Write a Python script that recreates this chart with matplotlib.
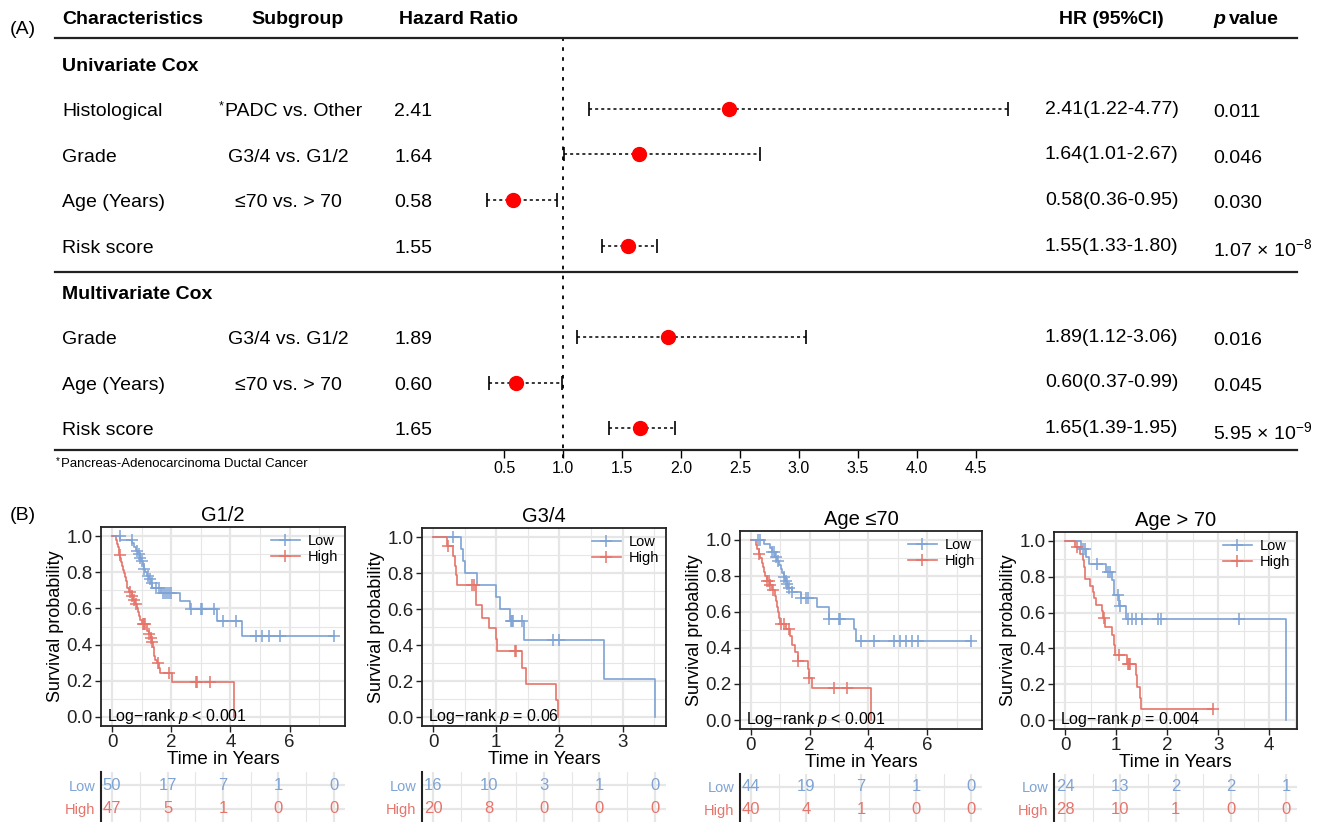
import numpy as np
import matplotlib
matplotlib.use('Agg')
import matplotlib.pyplot as plt
from matplotlib.transforms import blended_transform_factory
from matplotlib.lines import Line2D

plt.rcParams['font.family'] = 'Liberation Sans'
plt.rcParams['mathtext.fontset'] = 'custom'
plt.rcParams['mathtext.rm'] = 'Liberation Sans'
plt.rcParams['mathtext.it'] = 'Liberation Sans:italic'
plt.rcParams['mathtext.bf'] = 'Liberation Sans:bold'

# ---------------- forest plot data (A) ----------------
uni_names = ['Histological', 'Grade', 'Age (Years)', 'Risk score']
uni_sub = ['PADC vs. Other', 'G3/4 vs. G1/2', '≤70 vs. > 70', '']
uni_hr = [2.41, 1.64, 0.58, 1.55]
uni_lo = [1.22, 1.01, 0.36, 1.33]
uni_hi = [4.77, 2.67, 0.95, 1.80]
uni_p = ['0.011', '0.046', '0.030', r'1.07 × 10$^{\mathregular{-8}}$']

multi_names = ['Grade', 'Age (Years)', 'Risk score']
multi_sub = ['G3/4 vs. G1/2', '≤70 vs. > 70', '']
multi_hr = [1.89, 0.60, 1.65]
multi_lo = [1.12, 0.37, 1.39]
multi_hi = [3.06, 0.99, 1.95]
multi_p = ['0.016', '0.045', r'5.95 × 10$^{\mathregular{-9}}$']

hr_ticks = [0.5, 1.0, 1.5, 2.0, 2.5, 3.0, 3.5, 4.0, 4.5]

# ---------------- Kaplan-Meier data (B) ----------------
# G1/2
g12_low_t = [0.28, 0.68, 0.75, 0.81, 0.88, 0.93, 0.99, 1.03, 1.08, 1.12, 1.18, 1.26, 1.32, 1.36,
             1.66, 2.28, 2.65, 3.56, 4.39]
g12_low_s = [0.98, 0.96, 0.94, 0.92, 0.90, 0.88, 0.86, 0.84, 0.82, 0.80, 0.78, 0.76, 0.74, 0.715,
             0.684, 0.642, 0.597, 0.533, 0.445]
g12_low_c = [0.26, 0.66, 0.83, 0.90, 0.94, 1.01, 1.09, 1.20, 1.29, 1.35, 1.49, 1.58, 1.72, 1.80,
             1.86, 1.92, 1.98, 2.68, 3.00, 3.05, 3.44, 3.76, 4.18, 4.88, 5.06, 5.30, 5.69, 7.50]
g12_high_t = [0.13, 0.16, 0.19, 0.22, 0.25, 0.28, 0.31, 0.34, 0.37, 0.40, 0.43, 0.46, 0.49, 0.52,
              0.56, 0.66, 0.72, 0.78, 0.84, 0.88, 0.92, 0.96, 1.00, 1.17, 1.24, 1.30, 1.35, 1.38,
              1.41, 1.43, 1.45, 1.51, 1.58, 1.62, 2.03, 4.12]
g12_high_s = [0.979, 0.958, 0.938, 0.917, 0.897, 0.876, 0.856, 0.835, 0.815, 0.794, 0.774, 0.753,
              0.733, 0.713, 0.693, 0.670, 0.648, 0.626, 0.604, 0.582, 0.560, 0.538, 0.515, 0.476,
              0.456, 0.436, 0.414, 0.388, 0.362, 0.339, 0.316, 0.300, 0.272, 0.243, 0.193, 0.0]
g12_high_c = [0.27, 0.60, 0.66, 0.75, 0.81, 1.03, 1.07, 1.11, 1.24, 1.30, 1.35, 1.55, 1.94, 2.83,
              2.87, 3.31]
g12_risk_low = [50, 17, 7, 1, 0]
g12_risk_high = [47, 5, 1, 0, 0]

# G3/4
g34_low_t = [0.44, 0.47, 0.50, 0.69, 1.00, 1.06, 1.21, 1.44, 2.71, 3.51]
g34_low_s = [0.933, 0.867, 0.80, 0.733, 0.667, 0.60, 0.533, 0.427, 0.213, 0.0]
g34_low_c = [0.32, 1.23, 1.25, 1.27, 1.40, 1.90, 1.99]
g34_high_t = [0.22, 0.31, 0.34, 0.36, 0.38, 0.68, 0.77, 0.88, 0.99, 1.01, 1.41, 1.47, 1.95, 1.98]
g34_high_s = [0.95, 0.895, 0.84, 0.79, 0.735, 0.62, 0.55, 0.495, 0.435, 0.367, 0.275, 0.184,
              0.092, 0.0]
g34_high_c = [0.24, 0.62, 0.64, 1.29, 1.31]
g34_risk_low = [16, 10, 3, 1, 0]
g34_risk_high = [20, 8, 0, 0, 0]

# Age <=70
ay_low_t = [0.44, 0.65, 0.70, 0.82, 0.88, 0.95, 1.01, 1.06, 1.11, 1.16, 1.21, 1.26, 1.39, 1.69,
            2.26, 2.66, 3.51, 3.56]
ay_low_s = [0.977, 0.954, 0.931, 0.908, 0.885, 0.862, 0.839, 0.816, 0.793, 0.770, 0.754, 0.735,
            0.710, 0.676, 0.628, 0.560, 0.507, 0.440]
ay_low_c = [0.24, 0.30, 0.72, 0.78, 0.85, 0.92, 1.13, 1.18, 1.24, 1.30, 1.40, 1.70, 1.86, 1.94,
            2.67, 3.00, 3.03, 3.76, 4.19, 4.88, 5.07, 5.27, 5.48, 5.67, 7.49]
ay_high_t = [0.16, 0.22, 0.27, 0.32, 0.37, 0.41, 0.45, 0.49, 0.53, 0.64, 0.73, 0.82, 0.86, 0.90,
             0.93, 0.97, 0.99, 1.18, 1.32, 1.39, 1.49, 1.60, 1.94, 1.98, 2.06, 4.10]
ay_high_s = [0.975, 0.95, 0.925, 0.90, 0.875, 0.85, 0.825, 0.80, 0.775, 0.75, 0.72, 0.69, 0.66,
             0.63, 0.60, 0.565, 0.535, 0.507, 0.465, 0.415, 0.38, 0.33, 0.285, 0.235, 0.18, 0.0]
ay_high_c = [0.28, 0.56, 0.61, 0.65, 0.76, 1.01, 1.13, 1.30, 1.61, 1.99, 2.81, 3.28]
ay_risk_low = [44, 19, 7, 1, 0]
ay_risk_high = [40, 4, 1, 0, 0]

# Age > 70
ao_low_t = [0.32, 0.42, 0.47, 0.80, 0.93, 0.95, 0.96, 1.05, 1.19, 4.33]
ao_low_s = [0.957, 0.913, 0.87, 0.826, 0.783, 0.740, 0.700, 0.635, 0.565, 0.0]
ao_low_c = [0.35, 0.39, 0.62, 0.84, 0.88, 1.03, 1.07, 1.24, 1.31, 1.39, 1.50, 1.82, 1.88, 3.40]
ao_high_t = [0.20, 0.30, 0.35, 0.37, 0.39, 0.40, 0.49, 0.55, 0.57, 0.61, 0.73, 0.75, 0.78, 0.92,
             0.96, 0.97, 1.21, 1.40, 1.41, 1.46, 1.49]
ao_high_s = [0.964, 0.929, 0.893, 0.857, 0.821, 0.786, 0.750, 0.714, 0.679, 0.643, 0.607, 0.571,
             0.519, 0.474, 0.420, 0.363, 0.311, 0.249, 0.187, 0.122, 0.063]
ao_high_c = [0.23, 0.76, 1.06, 1.24, 1.26, 1.28, 2.90]
ao_risk_low = [24, 13, 2, 2, 1]
ao_risk_high = [28, 10, 1, 0, 0]

titles = ['G1/2', 'G3/4', 'Age ≤70', 'Age > 70']
pvals = [r'Log$-$rank $p$ < 0.001', r'Log$-$rank $p$ = 0.06',
         r'Log$-$rank $p$ < 0.001', r'Log$-$rank $p$ = 0.004']
km_xticks = [[0, 2, 4, 6], [0, 1, 2, 3], [0, 2, 4, 6], [0, 1, 2, 3, 4]]
risk_breaks = [[0, 2, 4, 6, 8], [0, 1, 2, 3, 4], [0, 2, 4, 6, 8], [0, 1, 2, 3, 4]]

BLUE = '#7EA3D4'
RED = '#E6746A'
GRID = '#E6E6E6'

W, H = 1319, 822
fig = plt.figure(figsize=(W / 100, H / 100), dpi=100)


def fpos(x0, y0, x1, y1):
    return [x0 / W, 1 - y1 / H, (x1 - x0) / W, (y1 - y0) / H]


# ================= (A) forest plot =================
px_per_hr = 118.0
ax_l, ax_r = 445, 1020
fax = fig.add_axes(fpos(ax_l, 38, ax_r, 450))
fax.set_xlim(0, (ax_r - ax_l) / px_per_hr)
fax.set_ylim(8.42, -0.614)
for sp in fax.spines.values():
    sp.set_visible(False)
fax.set_yticks([])
fax.set_xticks(hr_ticks)
fax.set_xticklabels([f'{v:.1f}' for v in hr_ticks], fontsize=11.5)
fax.tick_params(axis='x', direction='out', length=6, width=1.0, pad=2)
fax.patch.set_alpha(0)

tr = blended_transform_factory(fig.transFigure, fax.transData)


def put(xpx, row, s, **kw):
    kw.setdefault('fontsize', 14)
    kw.setdefault('va', 'center')
    fax.text(xpx / W, row, s, transform=tr, clip_on=False, **kw)


# headers
put(62, -1.03, 'Characteristics', fontweight='bold')
put(297, -1.03, 'Subgroup', fontweight='bold', ha='center')
put(399, -1.03, 'Hazard Ratio', fontweight='bold')
put(1059, -1.03, 'HR (95%CI)', fontweight='bold')
put(1213, -1.03, 'p', fontweight='bold', style='italic')
put(1229, -1.03, 'value', fontweight='bold')
fig.text(10 / W, 1 - 30 / H, '(A)', fontsize=14, va='center')

for row in [-0.614, 4.52, 8.42]:
    fig.add_artist(Line2D([55 / W, 1297 / W], [row, row], transform=tr, color='#222222', lw=1.6))

fax.axvline(1.0, ymin=-0.02, ymax=1, color='black', lw=1.3, ls=(0, (2, 3.5)), clip_on=False)

put(62, 0, 'Univariate Cox', fontweight='bold')
put(62, 5, 'Multivariate Cox', fontweight='bold')

uni_rows = [1, 2, 3, 4]
multi_rows = [6, 7, 8]
groups = [(uni_rows, uni_names, uni_sub, uni_hr, uni_lo, uni_hi, uni_p),
          (multi_rows, multi_names, multi_sub, multi_hr, multi_lo, multi_hi, multi_p)]
for rows, names, subs, hrs, los, his, ps in groups:
    for r, nm, sb, hr, lo, hi, p in zip(rows, names, subs, hrs, los, his, ps):
        put(62, r, nm)
        if sb.startswith('PADC'):
            put(225, r, sb)
            put(219, r - 0.12, '*', fontsize=9)
        elif sb:
            put(288, r, sb, ha='center')
        put(394, r, f'{hr:.2f}')
        put(1045, r - 0.05, f'{hr:.2f}({lo:.2f}-{hi:.2f})')
        put(1213, r + 0.02, p)
        fax.plot([lo, hi], [r - 0.06, r - 0.06], color='black', lw=1.1, ls=(0, (2, 2)))
        fax.plot([lo, hi], [r - 0.06, r - 0.06], ls='none', marker='|', ms=10, mew=1.2,
                 color='black')
        fax.plot(hr, r - 0.06, 'o', color='#FF0000', ms=10, zorder=5)

put(61, 8.73, 'Pancreas-Adenocarcinoma Ductal Cancer', fontsize=9.5)
put(56, 8.66, '*', fontsize=7)

# ================= (B) Kaplan-Meier panels =================
fig.text(10 / W, 1 - 515 / H, '(B)', fontsize=14, va='center')

km_pos = [(101, 527, 345, 726), (422, 528, 666, 726), (740, 531, 982, 729), (1054, 532, 1297, 729)]
tb_pos = [(101, 772, 345, 822), (422, 772, 666, 822), (740, 774, 982, 822), (1054, 774, 1297, 822)]

curves = [(g12_low_t, g12_low_s, g12_low_c, g12_high_t, g12_high_s, g12_high_c),
          (g34_low_t, g34_low_s, g34_low_c, g34_high_t, g34_high_s, g34_high_c),
          (ay_low_t, ay_low_s, ay_low_c, ay_high_t, ay_high_s, ay_high_c),
          (ao_low_t, ao_low_s, ao_low_c, ao_high_t, ao_high_s, ao_high_c)]
risks = [(g12_risk_low, g12_risk_high), (g34_risk_low, g34_risk_high),
         (ay_risk_low, ay_risk_high), (ao_risk_low, ao_risk_high)]


def draw_curve(ax, t, s, c, color):
    t = np.asarray(t)
    s = np.asarray(s)
    tend = max(t.max(), max(c)) if c else t.max()
    x = np.concatenate([[0], t, [tend]])
    y = np.concatenate([[1], s, [s[-1]]])
    ax.step(x, y, where='post', color=color, lw=1.2, zorder=3)
    lev = np.concatenate([[1], s])
    cy = lev[np.searchsorted(t, c, side='right')]
    ax.plot(c, cy, ls='none', marker='+', ms=8, mew=1.1, color=color, zorder=4)


def minor_between(major, lo, hi):
    step = major[1] - major[0]
    m = np.arange(major[0] - step / 2, hi, step)
    return m[(m > lo) & (m < hi)]


for i in range(4):
    lt, ls_, lc, ht, hs, hc = curves[i]
    ax = fig.add_axes(fpos(*km_pos[i]))
    tmax = max(max(lt), max(lc), max(ht), max(hc))
    ax.set_xlim(-0.05 * tmax, 1.05 * tmax)
    ax.set_ylim(-0.05, 1.05)
    ax.set_xticks(km_xticks[i])
    ax.set_xticks(minor_between(km_xticks[i], -0.05 * tmax, 1.05 * tmax), minor=True)
    ax.set_yticks([0, 0.2, 0.4, 0.6, 0.8, 1.0])
    ax.set_yticklabels(['0.0', '0.2', '0.4', '0.6', '0.8', '1.0'])
    ax.set_yticks([0.1, 0.3, 0.5, 0.7, 0.9], minor=True)
    ax.grid(which='major', color=GRID, lw=1.6, zorder=0)
    ax.grid(which='minor', color=GRID, lw=0.8, zorder=0)
    ax.set_axisbelow(True)
    ax.tick_params(which='major', labelsize=13.5, length=4, width=1.0, pad=2, colors='#222222')
    ax.tick_params(which='minor', length=0)
    for sp in ax.spines.values():
        sp.set_linewidth(1.3)
        sp.set_color('#222222')
    draw_curve(ax, lt, ls_, lc, BLUE)
    draw_curve(ax, ht, hs, hc, RED)
    ax.set_title(titles[i], fontsize=14.5, pad=4)
    ax.set_xlabel('Time in Years', fontsize=13.5, labelpad=0)
    ax.set_ylabel('Survival probability', fontsize=13, labelpad=2)
    handles = [Line2D([], [], color=BLUE, marker='+', ms=8, mew=1.1, lw=1.2),
               Line2D([], [], color=RED, marker='+', ms=8, mew=1.1, lw=1.2)]
    ax.legend(handles, ['Low', 'High'], loc='upper right', frameon=False, fontsize=10.5,
              handlelength=2.0, handletextpad=0.5, labelspacing=0.15, borderaxespad=0.3,
              borderpad=0.2)
    ax.text(0.025, 0.005, pvals[i], transform=blended_transform_factory(ax.transAxes, ax.transData),
            fontsize=11.5, va='center', ha='left', zorder=6)

    # risk table
    rl, rh = risks[i]
    br = risk_breaks[i]
    tax = fig.add_axes(fpos(*tb_pos[i]))
    bmax = br[-1]
    tax.set_xlim(-0.05 * bmax, 1.05 * bmax)
    tax.set_ylim(-0.55, 1.55)
    tax.set_xticks(br)
    tax.set_xticks(minor_between(br, -0.05 * bmax, 1.05 * bmax), minor=True)
    tax.set_yticks([0, 1])
    tax.set_yticklabels(['High', 'Low'], fontsize=10.5)
    tax.get_yticklabels()[0].set_color(RED)
    tax.get_yticklabels()[1].set_color(BLUE)
    tax.tick_params(axis='x', which='both', length=0, labelbottom=False)
    tax.tick_params(axis='y', length=0, pad=4)
    tax.grid(which='major', color=GRID, lw=1.6, zorder=0)
    tax.grid(which='minor', axis='x', color=GRID, lw=0.8, zorder=0)
    tax.set_axisbelow(True)
    for k in ['top', 'right', 'bottom']:
        tax.spines[k].set_visible(False)
    tax.spines['left'].set_linewidth(1.5)
    tax.spines['left'].set_color('#222222')
    for x, n in zip(br, rl):
        tax.text(x, 1, str(n), color=BLUE, ha='center', va='center', fontsize=12)
    for x, n in zip(br, rh):
        tax.text(x, 0, str(n), color=RED, ha='center', va='center', fontsize=12)

fig.savefig('out.png', dpi=100)
